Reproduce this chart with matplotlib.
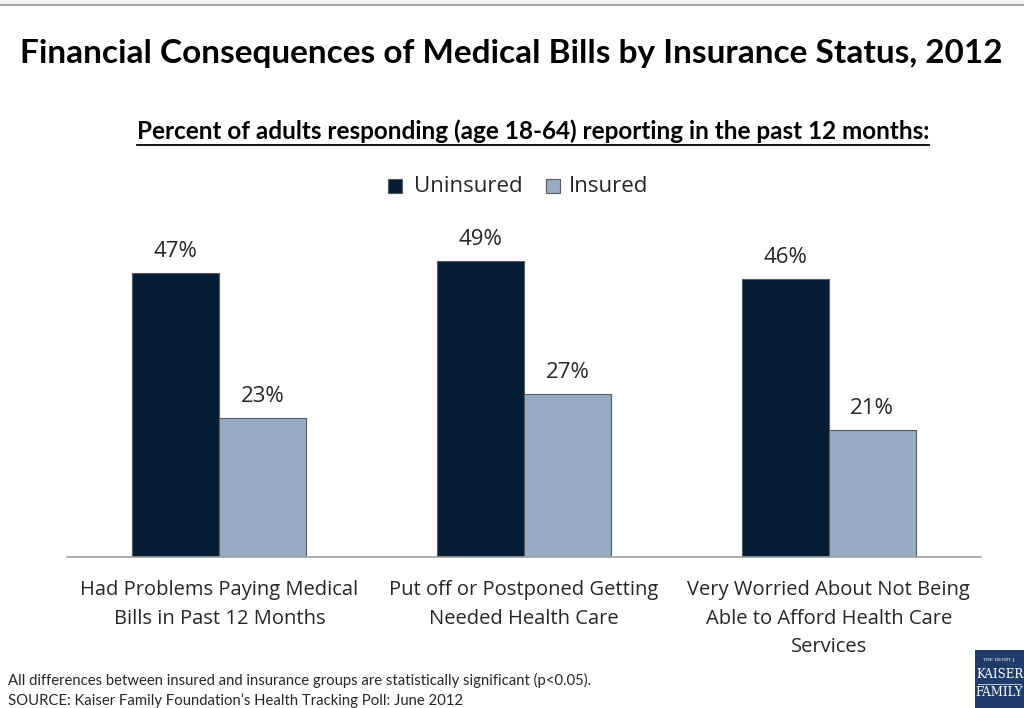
import matplotlib
matplotlib.use("Agg")
import matplotlib.pyplot as plt
from matplotlib.patches import Rectangle
import numpy as np

categories = ["Had Problems Paying Medical\nBills in Past 12 Months",
              "Put off or Postponed Getting\nNeeded Health Care",
              "Very Worried About Not Being\nAble to Afford Health Care\nServices"]
uninsured = [47, 49, 46]
insured = [23, 27, 21]
series_names = ["Uninsured", "Insured"]
title = "Financial Consequences of Medical Bills by Insurance Status, 2012"
subtitle = "Percent of adults responding (age 18-64) reporting in the past 12 months:"
note1 = "All differences between insured and insurance groups are statistically significant (p<0.05)."
note2 = "SOURCE: Kaiser Family Foundation\u2019s Health Tracking Poll: June 2012"

c_un = "#041c36"
c_in = "#98abc2"
edge = "#5a5a5a"
txt = "#262626"

W, H = 1024, 708
fig = plt.figure(figsize=(W/100, H/100), dpi=100)

def fx(x): return x / W
def fy(y): return 1 - y / H

# top border band
fig.patches.append(Rectangle((0, fy(5)), 1, 5/H, transform=fig.transFigure,
                             facecolor="#f3f3f3", edgecolor="none"))
fig.lines.append(plt.Line2D([0, 1], [fy(5), fy(5)], transform=fig.transFigure,
                            color="#a8a8a8", lw=1.5))

ymax = 55
base_y = 556.7
top_y = base_y - ymax * 6.04
ax = fig.add_axes([fx(67), fy(base_y), fx(981) - fx(67), (base_y - top_y) / H])
x = np.arange(len(categories))
bw = 87 / 304.7
b1 = ax.bar(x - bw/2, uninsured, bw, color=c_un, edgecolor=edge, linewidth=0.8)
b2 = ax.bar(x + bw/2, insured, bw, color=c_in, edgecolor=edge, linewidth=0.8)
ax.set_xlim(-0.5, len(categories) - 0.5)
ax.set_ylim(0, ymax)
for s in ["top", "right", "left"]:
    ax.spines[s].set_visible(False)
ax.spines["bottom"].set_color("#a0a0a0")
ax.spines["bottom"].set_linewidth(1.2)
ax.set_yticks([])
ax.set_xticks(x)
ax.set_xticklabels(categories, fontsize=14.5, family="Open Sans", color=txt,
                   linespacing=1.57)
ax.tick_params(axis="x", length=0, pad=17)
ax.patch.set_alpha(0)

for bars, vals in [(b1, uninsured), (b2, insured)]:
    for r, v in zip(bars, vals):
        ax.annotate(f"{v}%", (r.get_x() + r.get_width()/2, v), xytext=(0, 8),
                    textcoords="offset points", ha="center", va="bottom",
                    fontsize=16, family="Open Sans", color=txt)

fig.text(fx(511), fy(53), title, ha="center", va="center", fontsize=24,
         family="Lato", weight="bold", color="black")
st = fig.text(fx(533), fy(131), subtitle, ha="center", va="center", fontsize=17.5,
              family="Lato", weight="bold", color="black")
fig.canvas.draw()
bb = st.get_window_extent().transformed(fig.transFigure.inverted())
fig.lines.append(plt.Line2D([bb.x0, bb.x1], [fy(145), fy(145)],
                            transform=fig.transFigure, color="black", lw=1.3))

# legend
for sx, tx, col, name in [(395, 414, c_un, series_names[0]), (553, 569, c_in, series_names[1])]:
    fig.patches.append(Rectangle((fx(sx - 7), fy(193)), 14/W, 14/H,
                                 transform=fig.transFigure, facecolor=col,
                                 edgecolor=edge, linewidth=0.8))
    fig.text(fx(tx), fy(186), name, ha="left", va="center", fontsize=16,
             family="Open Sans", color=txt)

fig.text(fx(8), fy(680), note1, ha="left", va="center", fontsize=10.7,
         family="Lato", color=txt)
fig.text(fx(8), fy(701), note2, ha="left", va="center", fontsize=10.7,
         family="Lato", color=txt)

# logo
lax = fig.add_axes([fx(975), 0, fx(1024) - fx(975), 58/H])
lax.set_xlim(0, 49); lax.set_ylim(58, 0)
lax.axis("off")
lax.add_patch(Rectangle((0, 0), 49, 58, facecolor="#1f3d6b", edgecolor="none"))
lax.text(24.5, 10, "THE HENRY J.", fontsize=3.2, color="white", family="DejaVu Serif",
         ha="center", va="center")
lax.text(24.5, 25, "KAISER", fontsize=8.5, color="white", family="DejaVu Serif",
         ha="center", va="center")
lax.text(24.5, 42, "FAMILY", fontsize=8.5, color="white", family="DejaVu Serif",
         ha="center", va="center")
lax.plot([3, 46], [34, 34], color="white", lw=0.5)

fig.savefig("out.png", dpi=100, facecolor="white")
